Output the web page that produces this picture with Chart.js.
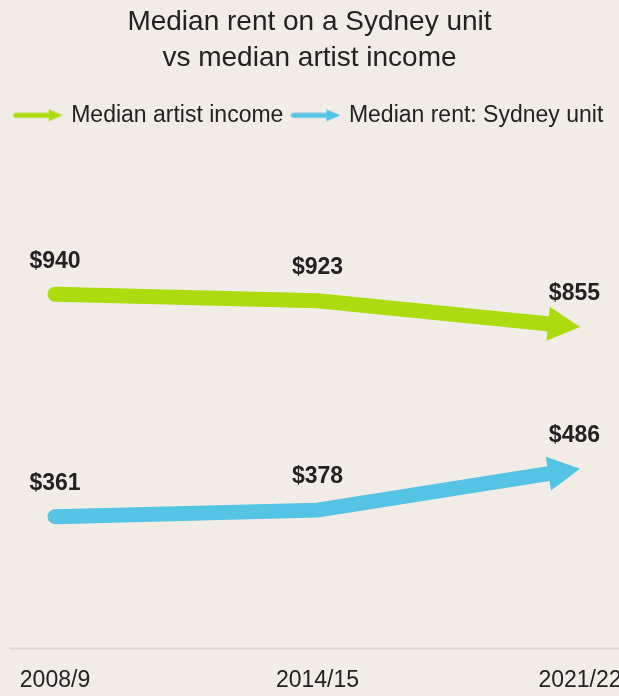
<!DOCTYPE html>
<html>
<head>
<meta charset="utf-8">
<script src="https://cdn.jsdelivr.net/npm/chart.js@4"></script>
<style>
    html, body { margin: 0; padding: 0; background: #f1ece6; }
    #wrap { width: 619px; height: 696px; position: relative; }
</style>
</head>
<body>
<div id="wrap"><canvas id="chart"></canvas></div>
<script>
// Chart data
const years = ['2008/9', '2014/15', '2021/22'];
const artistIncome = [940, 923, 855];
const sydneyRent = [361, 378, 486];
const seriesNames = ['Median artist income', 'Median rent: Sydney unit'];
const seriesColors = ['#acdc0f', '#55c3e3'];
const titleLines = ['Median rent on a Sydney unit', 'vs median artist income'];

const FONT = "'Liberation Sans', Arial, sans-serif";
const TEXT = '#222';
const ARROW_LEN = 32;
const ARROW_HALF = 17;

// Small arrow icon used in the legend
const makeLegendArrow = (color) => {
    const c = document.createElement('canvas');
    c.width = 50;
    c.height = 14;
    const ctx = c.getContext('2d');
    ctx.strokeStyle = color;
    ctx.fillStyle = color;
    ctx.lineWidth = 5;
    ctx.lineCap = 'round';
    ctx.beginPath();
    ctx.moveTo(3, 7);
    ctx.lineTo(38, 7);
    ctx.stroke();
    ctx.beginPath();
    ctx.moveTo(36, 1);
    ctx.lineTo(50, 7);
    ctx.lineTo(36, 13);
    ctx.closePath();
    ctx.fill();
    return c;
};

// Direction of the last segment, used for the arrow head
const arrowGeom = (meta) => {
    const pts = meta.data;
    const tip = pts[pts.length - 1];
    const prev = pts[pts.length - 2];
    const dx = tip.x - prev.x;
    const dy = tip.y - prev.y;
    const d = Math.hypot(dx, dy);
    const ux = dx / d;
    const uy = dy / d;
    return { tip, ux, uy, bx: tip.x - ux * ARROW_LEN, by: tip.y - uy * ARROW_LEN };
};

const arrowPlugin = {
    id: 'arrows',
    beforeDatasetDraw(chart, args) {
        const g = arrowGeom(args.meta);
        const ctx = chart.ctx;
        const nx = -g.uy, ny = g.ux, R = 3000;
        const bx = g.bx + g.ux, by = g.by + g.uy;
        ctx.save();
        ctx.beginPath();
        ctx.rect(0, 0, chart.width, chart.height);
        ctx.moveTo(bx + nx * R, by + ny * R);
        ctx.lineTo(bx + nx * R + g.ux * R, by + ny * R + g.uy * R);
        ctx.lineTo(bx - nx * R + g.ux * R, by - ny * R + g.uy * R);
        ctx.lineTo(bx - nx * R, by - ny * R);
        ctx.closePath();
        ctx.clip('evenodd');
    },
    afterDatasetDraw(chart, args) {
        const ctx = chart.ctx;
        ctx.restore();
        const g = arrowGeom(args.meta);
        const nx = -g.uy, ny = g.ux;
        ctx.save();
        ctx.fillStyle = chart.data.datasets[args.index].borderColor;
        ctx.beginPath();
        ctx.moveTo(g.tip.x, g.tip.y);
        ctx.lineTo(g.bx + nx * ARROW_HALF, g.by + ny * ARROW_HALF);
        ctx.lineTo(g.bx - nx * ARROW_HALF, g.by - ny * ARROW_HALF);
        ctx.closePath();
        ctx.fill();
        ctx.restore();
    }
};

// Value labels above each point, plus the long baseline
const labelPlugin = {
    id: 'valueLabels',
    beforeDatasetsDraw(chart) {
        const ctx = chart.ctx;
        const y = chart.scales.x.top;
        ctx.save();
        ctx.strokeStyle = '#dcd7d1';
        ctx.lineWidth = 2;
        ctx.beginPath();
        ctx.moveTo(9, y);
        ctx.lineTo(chart.width, y);
        ctx.stroke();
        ctx.restore();
    },
    afterDatasetsDraw(chart) {
        const ctx = chart.ctx;
        ctx.save();
        ctx.font = `bold 23px ${FONT}`;
        ctx.fillStyle = TEXT;
        ctx.textBaseline = 'middle';
        chart.data.datasets.forEach((ds, i) => {
            const meta = chart.getDatasetMeta(i);
            meta.data.forEach((pt, j) => {
                const last = j === meta.data.length - 1;
                ctx.textAlign = last ? 'right' : 'center';
                const x = last ? pt.x + 20 : pt.x;
                ctx.fillText('$' + ds.data[j], x, pt.y - 33);
            });
        });
        ctx.restore();
    }
};

const datasets = [artistIncome, sydneyRent].map((values, i) => ({
    label: seriesNames[i],
    data: values,
    borderColor: seriesColors[i],
    backgroundColor: seriesColors[i],
    borderWidth: 15,
    borderCapStyle: 'round',
    borderJoinStyle: 'miter',
    pointRadius: 0,
    pointHoverRadius: 0,
    tension: 0,
    clip: false
}));

new Chart(document.getElementById('chart'), {
    type: 'line',
    data: { labels: years, datasets },
    plugins: [arrowPlugin, labelPlugin],
    options: {
        responsive: true,
        maintainAspectRatio: false,
        animation: false,
        layout: { padding: 0 },
        plugins: {
            title: {
                display: true,
                text: titleLines,
                color: TEXT,
                font: { family: FONT, size: 28, weight: 'normal', lineHeight: 1.3 },
                padding: { top: 4, bottom: 17 }
            },
            legend: {
                position: 'top',
                labels: {
                    usePointStyle: true,
                    pointStyleWidth: 44,
                    boxHeight: 14,
                    color: TEXT,
                    padding: 10,
                    font: { family: FONT, size: 23 },
                    generateLabels: (chart) => chart.data.datasets.map((ds, i) => ({
                        text: ds.label,
                        pointStyle: makeLegendArrow(ds.borderColor),
                        fillStyle: ds.borderColor,
                        strokeStyle: ds.borderColor,
                        lineWidth: 0,
                        fontColor: TEXT,
                        datasetIndex: i
                    }))
                }
            },
            tooltip: { enabled: false }
        },
        scales: {
            x: {
                grid: { display: false, drawTicks: false },
                border: { display: false },
                ticks: {
                    color: TEXT,
                    padding: 18,
                    maxRotation: 0,
                    autoSkip: false,
                    font: { family: FONT, size: 23 }
                },
                afterFit: (scale) => {
                    scale.paddingLeft = 55;
                    scale.paddingRight = 39;
                    scale.height -= 16;
                }
            },
            y: {
                display: false,
                min: 18,
                max: 1350
            }
        }
    }
});
</script>
</body>
</html>
